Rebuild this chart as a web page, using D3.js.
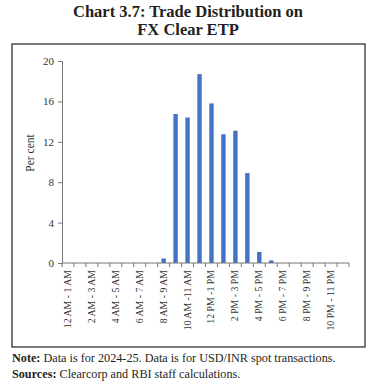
<!DOCTYPE html>
<html>
<head>
<meta charset="utf-8">
<script src="https://cdn.jsdelivr.net/npm/d3@7"></script>
<style>
  body { margin: 0; background: #fff; }
  svg text { font-family: "Liberation Serif", "DejaVu Serif", serif; }
</style>
</head>
<body>
<div id="chart"></div>
<script>
// hourly slots
const slots = [
  "12 AM - 1 AM", "1 AM - 2 AM", "2 AM - 3 AM", "3 AM - 4 AM", "4 AM - 5 AM", "5 AM - 6 AM",
  "6 AM - 7 AM", "7 AM - 8 AM", "8 AM - 9 AM", "9 AM - 10 AM", "10 AM -11 AM", "11 AM - 12 PM",
  "12 PM -1 PM", "1 PM - 2 PM", "2 PM - 3 PM", "3 PM - 4 PM", "4 PM - 5 PM", "5 PM - 6 PM",
  "6 PM - 7 PM", "7 PM - 8 PM", "8 PM - 9 PM", "9 PM - 10 PM", "10 PM - 11 PM", "11 PM - 12 AM"
];
// share of trades, per cent
const shares = [0, 0, 0, 0, 0, 0, 0, 0, 0.45, 14.75, 14.4, 18.7, 15.8, 12.75, 13.1, 8.9, 1.1, 0.25, 0, 0, 0, 0, 0, 0];
const yTicks = [0, 4, 8, 12, 16, 20];

const width = 375, height = 387;
const margin = { left: 62, right: 26, top: 61, bottom: 124 };

const svg = d3.select("#chart").append("svg")
  .attr("width", width)
  .attr("height", height);

// title
const title = svg.append("text")
  .attr("text-anchor", "middle")
  .attr("font-weight", "bold")
  .attr("font-size", 16.5)
  .attr("fill", "#231f20");
title.append("tspan").attr("x", 188).attr("y", 17).text("Chart 3.7: Trade Distribution on");
title.append("tspan").attr("x", 188).attr("y", 35).text("FX Clear ETP");

// frame
svg.append("rect")
  .attr("x", 12).attr("y", 44)
  .attr("width", 353).attr("height", 303)
  .attr("fill", "none")
  .attr("stroke", "#231f20")
  .attr("stroke-width", 1.2);

const x = d3.scaleBand()
  .domain(slots)
  .range([margin.left, width - margin.right]);

const y = d3.scaleLinear()
  .domain([0, 20])
  .range([height - margin.bottom, margin.top]);

// bars
svg.append("g")
  .selectAll("rect")
  .data(shares)
  .enter()
  .append("rect")
  .attr("x", (d, i) => x(slots[i]) + x.bandwidth() / 2 - 2.2)
  .attr("width", 4.4)
  .attr("y", (d) => y(d))
  .attr("height", (d) => y(0) - y(d))
  .attr("fill", "#4472c4");

// y axis
const yAxis = svg.append("g")
  .attr("transform", `translate(${margin.left},0)`)
  .call(d3.axisLeft(y).tickValues(yTicks).tickSize(4).tickPadding(4));
yAxis.select(".domain").attr("stroke", "#777");
yAxis.selectAll(".tick line").attr("stroke", "#777");
yAxis.selectAll("text").attr("font-size", 11).attr("fill", "#333")
  .attr("font-family", "Liberation Serif");

// x axis, ticks on band boundaries
const xAxisG = svg.append("g")
  .attr("transform", `translate(0,${y(0)})`);
xAxisG.append("line")
  .attr("x1", margin.left).attr("x2", width - margin.right)
  .attr("stroke", "#777");
xAxisG.selectAll(".bt")
  .data(slots.concat(["end"]))
  .enter()
  .append("line")
  .attr("x1", (d, i) => i < slots.length ? x(d) : x.range()[1])
  .attr("x2", (d, i) => i < slots.length ? x(d) : x.range()[1])
  .attr("y1", 0).attr("y2", 4)
  .attr("stroke", "#777");
xAxisG.selectAll(".lab")
  .data(slots.filter((d, i) => i % 2 === 0))
  .enter()
  .append("text")
  .attr("transform", (d) => `translate(${x(d) + x.bandwidth() / 2 + 3},7) rotate(-90)`)
  .attr("text-anchor", "end")
  .attr("font-family", "DejaVu Serif")
  .attr("font-size", 9.8)
  .attr("fill", "#333")
  .text((d) => d);

// axis title
svg.append("text")
  .attr("transform", "translate(34,153) rotate(-90)")
  .attr("text-anchor", "middle")
  .attr("font-size", 11.5)
  .attr("fill", "#333")
  .text("Per cent");

// notes
const note = svg.append("text").attr("x", 12).attr("y", 362)
  .attr("font-size", 12.2).attr("fill", "#231f20");
note.append("tspan").attr("font-weight", "bold").text("Note:");
note.append("tspan").text(" Data is for 2024-25. Data is for USD/INR spot transactions.");
const src = svg.append("text").attr("x", 12).attr("y", 378)
  .attr("font-size", 12.2).attr("fill", "#231f20");
src.append("tspan").attr("font-weight", "bold").text("Sources:");
src.append("tspan").text(" Clearcorp and RBI staff calculations.");
</script>
</body>
</html>
